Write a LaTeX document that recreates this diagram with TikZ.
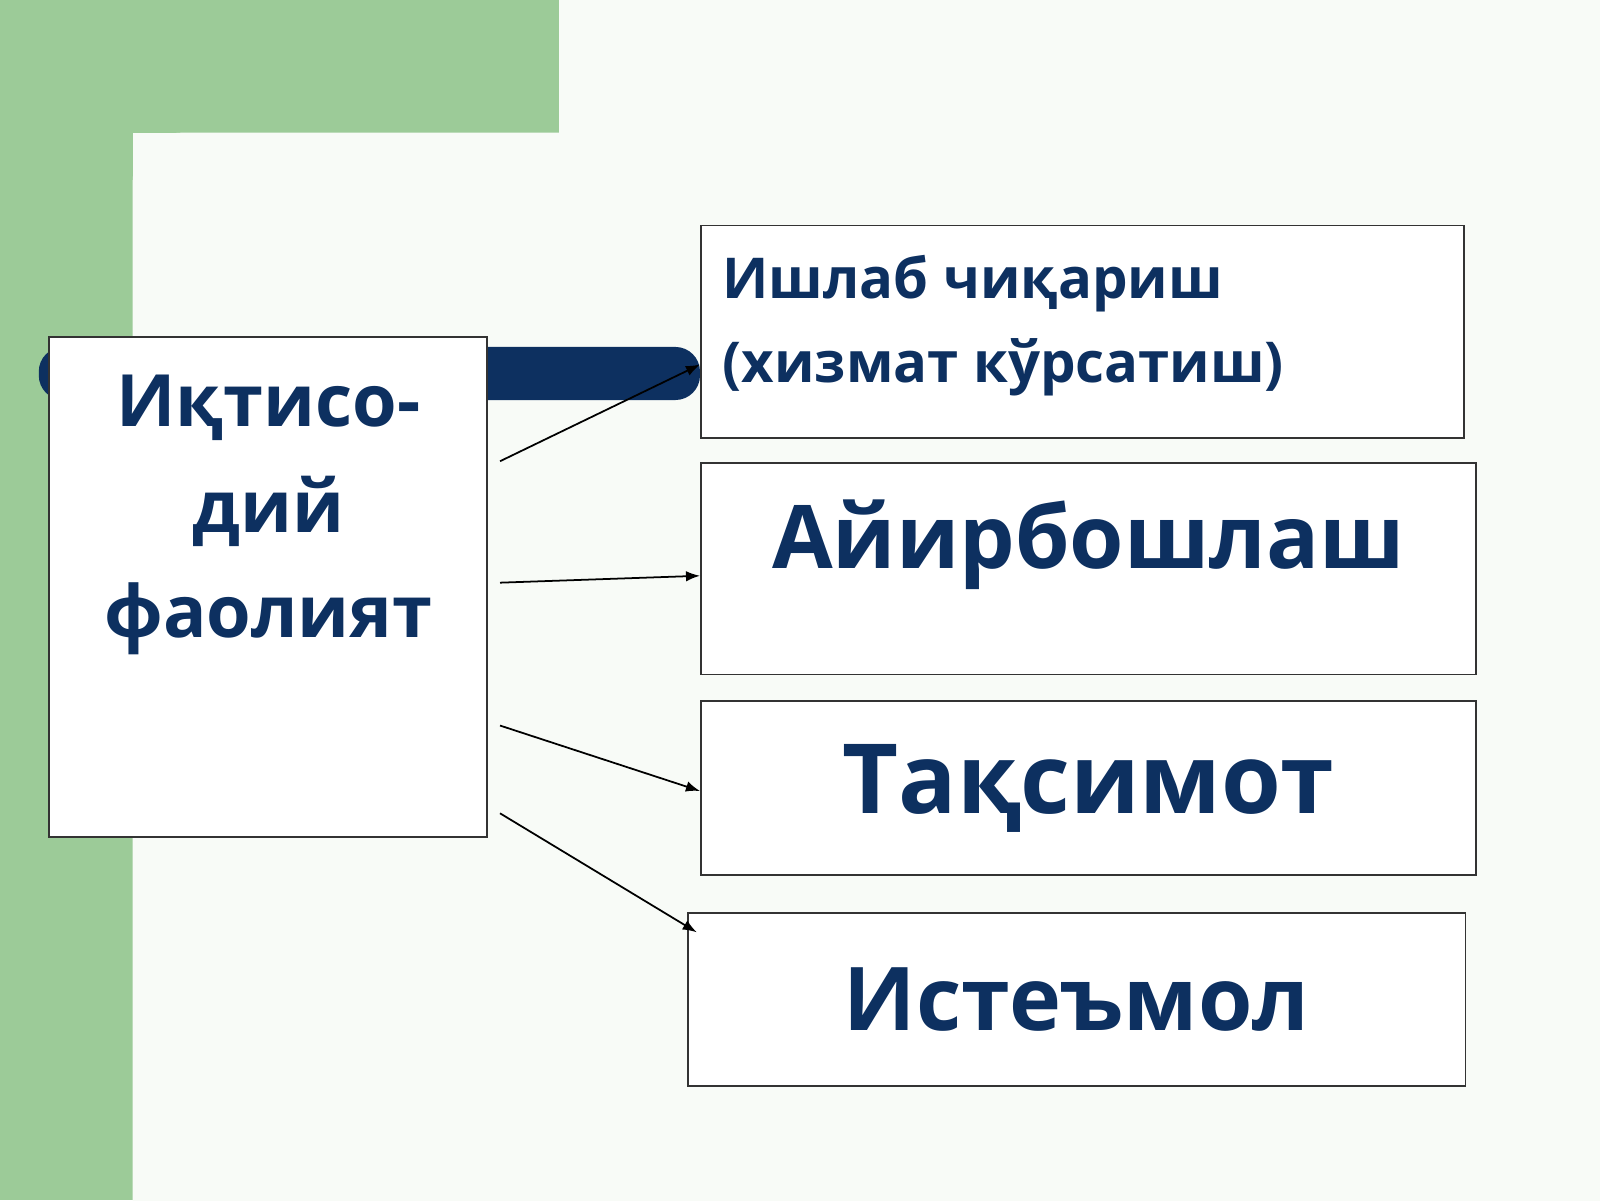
\documentclass[tikz,border=0pt]{standalone}
\usepackage{fontspec}
\setmainfont{Open Sans}
\usetikzlibrary{arrows.meta}
\definecolor{pageback}{HTML}{F8FBF7}
\definecolor{leafgreen}{HTML}{9CCB98}
\definecolor{inkblue}{HTML}{0D3060}
\tikzset{
  box/.style={draw=black!80, line width=0.5pt, fill=white},
  label/.style={text=inkblue, font=\bfseries},
  link/.style={-{Latex[length=4pt,width=3pt]}, line width=0.5pt}
}
\begin{document}
\begin{tikzpicture}[x=0.0102cm,y=-0.0102cm]
		\useasboundingbox (0,0) rectangle (1568,1176);
		\fill[pageback] (0,0) rectangle (1568,1176);
		\fill[leafgreen] (0,0) rectangle (548,130);
		\fill[leafgreen] (0,0) rectangle (130,1176);
		\fill[pageback, rounded corners=14pt] (130,130) rectangle (1700,1300);
		\fill[inkblue, rounded corners=7pt] (38,340) rectangle (686,392);
		\draw[box] (48,330) rectangle (477,820);
		\node[label, font=\bfseries\fontsize{20.5}{30}\selectfont, align=center, text width=4cm] (econ) at (263,505)
			{Иқтисо-\\дий\\фаолият};
		\node[box, minimum width=7.62cm, minimum height=2.12cm, anchor=north west] (prod) at (686,220) {};
		\node[label, font=\bfseries\fontsize{16}{24}\selectfont, align=left, anchor=north west] (prodtext) at (696,238)
			{Ишлаб чиқариш\\(хизмат кўрсатиш)};
		\node[box, label, font=\bfseries\fontsize{25}{30}\selectfont, minimum width=7.74cm, minimum height=2.11cm, anchor=north west,
			text depth=0.7cm] (exch) at (686,453) {Айирбошлаш};
		\node[box, label, font=\bfseries\fontsize{27.5}{32}\selectfont, minimum width=7.74cm, minimum height=1.74cm, anchor=north west] (distr) at (686,686) {Тақсимот};
		\node[box, label, font=\bfseries\fontsize{25}{30}\selectfont, minimum width=7.77cm, minimum height=1.73cm, anchor=north west] (cons) at (673,894) {Истеъмол};
		% arrows from the main box
		\coordinate (s1) at (490,452);
		\coordinate (s2) at (490,571);
		\coordinate (s3) at (490,711);
		\coordinate (s4) at (490,797);
		\draw[link] (s1) -- ([yshift=-0.33cm]prod.west);
		\draw[link] (s2) -- ([yshift=-0.07cm]exch.west);
		\draw[link] (s3) -- ([yshift=-0.03cm]distr.west);
		\draw[link] (s4) -- ([xshift=0.1cm,yshift=-0.2cm]cons.north west);
\end{tikzpicture}
\end{document}
